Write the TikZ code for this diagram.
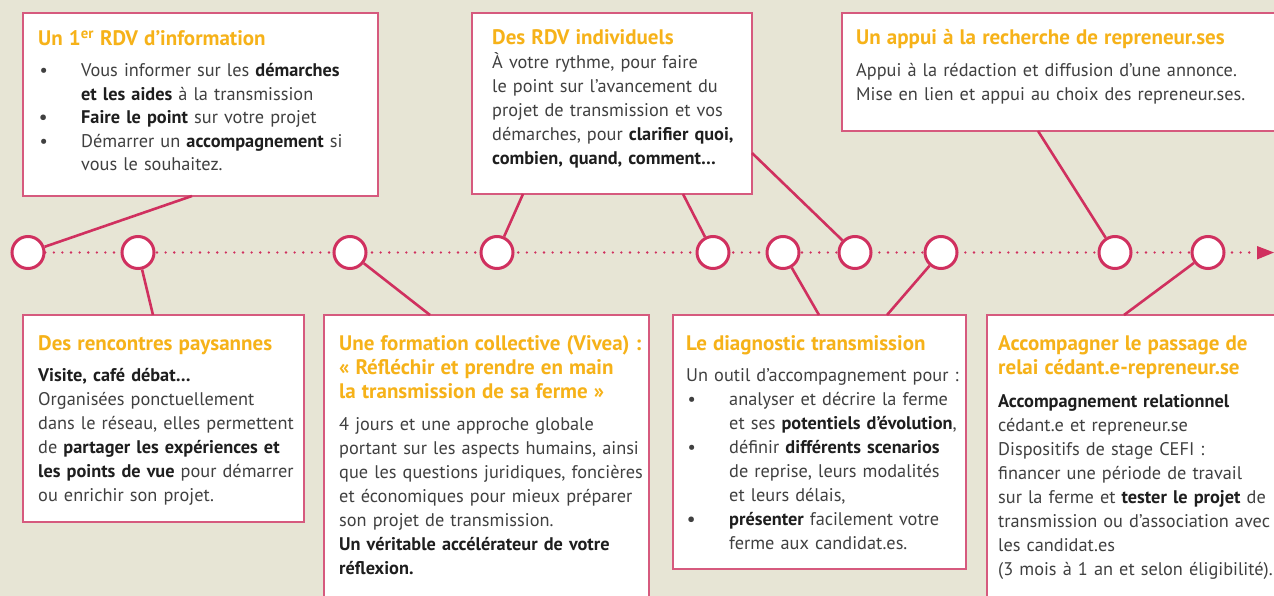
\documentclass[tikz,border=0pt]{standalone}
\usepackage{fontspec}
\setmainfont{PT Sans}
\definecolor{bgc}{HTML}{E7E5D5}
\definecolor{titlec}{HTML}{F6B219}
\definecolor{boxc}{HTML}{D65A7E}
\definecolor{linec}{HTML}{D0305F}
\definecolor{textc}{HTML}{404040}
\definecolor{boldc}{HTML}{1E1E1E}
\newcommand\ttl{\bfseries\fontsize{21}{24.5}\selectfont\color{titlec}}
\newcommand\B[1]{{\bfseries\color{boldc}#1}}
\newcommand\bul{\makebox[43pt][l]{\hspace{1.5pt}\textbullet}}
\newcommand\bbul{\makebox[43pt][l]{\hspace{1pt}\bfseries\textbullet}}
\newcommand\ind{\hspace*{43pt}}
\begin{document}
\begin{tikzpicture}[x=1pt,y=-1pt,
  box/.style={draw=boxc, line width=1.6pt, fill=white, anchor=north west, inner sep=0pt, outer sep=0pt},
  txt/.style={anchor=base west, inner sep=0pt, align=left, text width=420pt, text=textc, font=\fontsize{18.3}{24}\selectfont},
  dot/.style={draw=linec, line width=3pt, fill=white, circle, minimum size=32pt, inner sep=0pt},
  conn/.style={draw=linec, line width=2.6pt},
  dotline/.style={draw=linec, line width=2.6pt, line cap=round, dash pattern=on 0pt off 8.6pt}]
\fill[bgc] (0,0) rectangle (1274,596);
\useasboundingbox (0,0) rectangle (1274,596);
\clip (0,0) rectangle (1274,596);
% boxes
\node[box, minimum width=355pt, minimum height=183pt] (b1) at (23,13) {};
\node[box, minimum width=280pt, minimum height=181pt] (b2) at (472,13) {};
\node[box, minimum width=450pt, minimum height=118pt] (b3) at (842,13) {};
\node[box, minimum width=281pt, minimum height=207pt] (b4) at (23,315) {};
\node[box, minimum width=325pt, minimum height=300pt] (b5) at (324,315) {};
\node[box, minimum width=293pt, minimum height=254pt] (b6) at (673,315) {};
\node[box, minimum width=320pt, minimum height=300pt] (b7) at (987,315) {};
% texts
\node[txt, font=\fontsize{18.3}{23.5}\selectfont] (t1) at (38,46) {{\ttl Un 1\textsuperscript{er} RDV d’information}\\[7.5pt]
\bul Vous informer sur les \B{démarches}\\
\ind\B{et les aides} à la transmission\\
\bbul\B{Faire le point} sur votre projet\\
\bul Démarrer un \B{accompagnement} si\\
\ind vous le souhaitez.};
\node[txt] (t2) at (492,45) {{\ttl Des RDV individuels}\\
À votre rythme, pour faire\\
le point sur l’avancement du\\
projet de transmission et vos\\
démarches, pour \B{clarifier quoi,}\\
\B{combien, quand, comment…}};
\node[txt] (t3) at (856,45) {{\ttl Un appui à la recherche de repreneur.ses}\\[8pt]
Appui à la rédaction et diffusion d’une annonce.\\
Mise en lien et appui au choix des repreneur.ses.};
\node[txt] (t4) at (38,350) {{\ttl Des rencontres paysannes}\\[7pt]
\B{Visite, café débat…}\\
Organisées ponctuellement\\
dans le réseau, elles permettent\\
de \B{partager les expériences et}\\
\B{les points de vue} pour démarrer\\
ou enrichir son projet.};
\node[txt] (t5) at (339,350) {{\ttl Une formation collective (Vivea)~:\\
«~Réfléchir et prendre en main\\
la transmission de sa ferme~»}\\[8pt]
4 jours et une approche globale\\
portant sur les aspects humains, ainsi\\
que les questions juridiques, foncières\\
et économiques pour mieux préparer\\
son projet de transmission.\\
\B{Un véritable accélérateur de votre}\\
\B{réflexion.}};
\node[txt] (t6) at (686,350) {{\ttl Le diagnostic transmission}\\[7pt]
Un outil d’accompagnement pour~:\\
\bul analyser et décrire la ferme\\
\ind et ses \B{potentiels d’évolution},\\
\bul définir \B{différents scenarios}\\
\ind de reprise, leurs modalités\\
\ind et leurs délais,\\
\bbul\B{présenter} facilement votre\\
\ind ferme aux candidat.es.};
\node[txt] (t7) at (998,350) {{\ttl Accompagner le passage de\\
relai cédant.e-repreneur.se}\\[9pt]
\B{Accompagnement relationnel}\\
cédant.e et repreneur.se\\
Dispositifs de stage CEFI~:\\
financer une période de travail\\
sur la ferme et \B{tester le projet} de\\
transmission ou d’association avec\\
les candidat.es\\
(3 mois à 1 an et selon éligibilité).};
% timeline
\coordinate (tstart) at (28,252.5);
\coordinate (tend) at (1257,252.5);
\coordinate (tip) at (1274,252.5);
\draw[dotline] (tstart) -- (tend);
\fill[linec] (1257,246) -- (tip) -- (1257,259.5) -- cycle;
\foreach \n/\x in {1/28,2/138,3/350,4/497,5/713,6/783,7/855,8/941,9/1115,10/1208}
  \node[dot] (c\n) at (\x,252.5) {};
% connector ends on boxes
\coordinate (k1) at (192,196);
\coordinate (k2) at (153,315);
\coordinate (k3) at (430,315);
\coordinate (k4) at (523,194);
\coordinate (k5) at (683,194);
\coordinate (k6) at (819,315);
\coordinate (k7) at (752,153);
\coordinate (k8) at (887,315);
\coordinate (k9) at (1038,131);
\coordinate (k10) at (1124,315);
\draw[conn] (k1) -- (c1);
\draw[conn] (c2) -- (k2);
\draw[conn] (c3) -- (k3);
\draw[conn] (c4) -- (k4);
\draw[conn] (c5) -- (k5);
\draw[conn] (c6) -- (k6);
\draw[conn] (k7) -- (c7);
\draw[conn] (c8) -- (k8);
\draw[conn] (k9) -- (c9);
\draw[conn] (c10) -- (k10);
\end{tikzpicture}
\end{document}
